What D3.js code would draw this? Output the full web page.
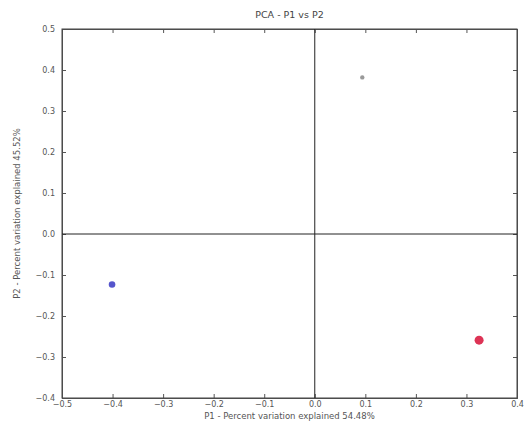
<!DOCTYPE html>
<html>
<head>
<meta charset="utf-8">
<script src="https://cdn.jsdelivr.net/npm/d3@7"></script>
<style>
  body { margin: 0; background: #fff; }
  .axis text { font-family: "DejaVu Sans", sans-serif; font-size: 8px; fill: #555; }
  .axis path, .axis line { stroke: #555; }
</style>
</head>
<body>
<svg class="chart"></svg>
<script>
var samples = ["A", "B", "C"];
var p1 = [0.094, -0.401, 0.325];
var p2 = [0.382, -0.123, -0.259];
var pointColors = ["#999999", "#5555cc", "#dd3355"];
var pointSizes = [2.2, 3.3, 4.5];
var xTicks = [-0.5, -0.4, -0.3, -0.2, -0.1, 0.0, 0.1, 0.2, 0.3, 0.4];
var yTicks = [-0.4, -0.3, -0.2, -0.1, 0.0, 0.1, 0.2, 0.3, 0.4, 0.5];

var margin = {top: 29, right: 10, bottom: 27, left: 62},
    width = 527 - margin.left - margin.right,
    height = 425 - margin.top - margin.bottom;

var svg = d3.select(".chart")
    .attr("width", 527)
    .attr("height", 425);
var chart = svg.append("g")
    .attr("transform", "translate(" + margin.left + "," + margin.top + ")");

var x = d3.scaleLinear().domain([-0.5, 0.4]).range([0, width]);
var y = d3.scaleLinear().domain([-0.4, 0.5]).range([height, 0]);

// inward ticks, matplotlib style
chart.append("g").attr("class", "axis")
    .attr("transform", "translate(0," + height + ")")
    .call(d3.axisBottom(x).tickValues(xTicks).tickSize(-4).tickPadding(3).tickFormat(d3.format(".1f")));
chart.append("g").attr("class", "axis")
    .call(d3.axisTop(x).tickValues(xTicks).tickSize(-4).tickFormat(""));
chart.append("g").attr("class", "axis")
    .call(d3.axisLeft(y).tickValues(yTicks).tickSize(-4).tickPadding(7).tickFormat(d3.format(".1f")));
chart.append("g").attr("class", "axis")
    .attr("transform", "translate(" + width + ",0)")
    .call(d3.axisRight(y).tickValues(yTicks).tickSize(-4).tickFormat(""));

chart.append("rect")
    .attr("width", width).attr("height", height)
    .attr("fill", "none").attr("stroke", "#444").attr("stroke-width", 1);

chart.append("line")
    .attr("x1", x(0)).attr("x2", x(0)).attr("y1", 0).attr("y2", height)
    .attr("stroke", "#222").attr("stroke-width", 1);
chart.append("line")
    .attr("x1", 0).attr("x2", width).attr("y1", y(0)).attr("y2", y(0))
    .attr("stroke", "#222").attr("stroke-width", 1);

chart.selectAll(".dot")
    .data(samples)
    .enter().append("circle")
    .attr("class", "dot")
    .attr("cx", function(d, i) { return x(p1[i]); })
    .attr("cy", function(d, i) { return y(p2[i]); })
    .attr("r", function(d, i) { return pointSizes[i]; })
    .attr("fill", function(d, i) { return pointColors[i]; });

svg.append("text")
    .attr("x", margin.left + width / 2).attr("y", 18)
    .attr("text-anchor", "middle")
    .style("font-family", "DejaVu Sans, sans-serif").style("font-size", "9.5px").style("fill", "#444")
    .text("PCA - P1 vs P2");

svg.append("text")
    .attr("x", margin.left + width / 2).attr("y", 419)
    .attr("text-anchor", "middle")
    .style("font-family", "DejaVu Sans, sans-serif").style("font-size", "8.5px").style("fill", "#555")
    .text("P1 - Percent variation explained 54.48%");

svg.append("text")
    .attr("transform", "translate(20," + (margin.top + height / 2) + ") rotate(-90)")
    .attr("text-anchor", "middle")
    .style("font-family", "DejaVu Sans, sans-serif").style("font-size", "8.5px").style("fill", "#555")
    .text("P2 - Percent variation explained 45.52%");
</script>
</body>
</html>
